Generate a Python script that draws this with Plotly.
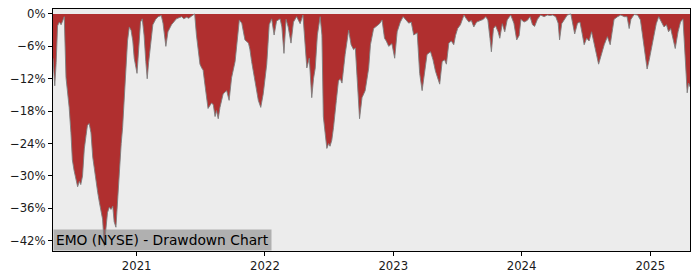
import plotly.graph_objects as go

dates = [
    "2020-05-08", "2020-05-13", "2020-05-17", "2020-05-21", "2020-05-26", "2020-05-31", "2020-06-05", "2020-06-09",
    "2020-06-14", "2020-06-19", "2020-06-23", "2020-06-28", "2020-07-02", "2020-07-07", "2020-07-12", "2020-07-17",
    "2020-07-22", "2020-07-26", "2020-07-31", "2020-08-05", "2020-08-10", "2020-08-14", "2020-08-19", "2020-08-24",
    "2020-08-29", "2020-09-02", "2020-09-07", "2020-09-12", "2020-09-17", "2020-09-22", "2020-09-26", "2020-09-29",
    "2020-10-01", "2020-10-03", "2020-10-06", "2020-10-10", "2020-10-15", "2020-10-20", "2020-10-25", "2020-10-29",
    "2020-11-03", "2020-11-08", "2020-11-13", "2020-11-18", "2020-11-22", "2020-11-27", "2020-12-02", "2020-12-06",
    "2020-12-11", "2020-12-16", "2020-12-21", "2020-12-25",
    "2021-01-02", "2021-01-08", "2021-01-12", "2021-01-17", "2021-01-22", "2021-01-27", "2021-01-31", "2021-02-04",
    "2021-02-09", "2021-02-16", "2021-02-24", "2021-03-03", "2021-03-12", "2021-03-17", "2021-03-25", "2021-03-31",
    "2021-04-10", "2021-04-17", "2021-04-24", "2021-05-09", "2021-05-15", "2021-05-23", "2021-05-29", "2021-06-06",
    "2021-06-15", "2021-06-20", "2021-06-25", "2021-06-30", "2021-07-05", "2021-07-09", "2021-07-14", "2021-07-19",
    "2021-07-23", "2021-07-28", "2021-08-02", "2021-08-07", "2021-08-12", "2021-08-16", "2021-08-21", "2021-08-26",
    "2021-08-31", "2021-09-04", "2021-09-09", "2021-09-14", "2021-09-21", "2021-09-28", "2021-10-08", "2021-10-14",
    "2021-10-20", "2021-10-27", "2021-10-31", "2021-11-05", "2021-11-15", "2021-11-19", "2021-11-24", "2021-12-04",
    "2021-12-13", "2021-12-20", "2021-12-27",
    "2022-01-06", "2022-01-13", "2022-01-20", "2022-01-27", "2022-02-03", "2022-02-13", "2022-02-18", "2022-02-24",
    "2022-03-02", "2022-03-08", "2022-03-16", "2022-03-23", "2022-04-01", "2022-04-11", "2022-04-19", "2022-04-25",
    "2022-04-30", "2022-05-07", "2022-05-14", "2022-05-19", "2022-05-24", "2022-05-30", "2022-06-07", "2022-06-12",
    "2022-06-16", "2022-06-21", "2022-06-26", "2022-07-01", "2022-07-05", "2022-07-10", "2022-07-15", "2022-07-23",
    "2022-07-29", "2022-08-03", "2022-08-08", "2022-08-17", "2022-08-27", "2022-09-03", "2022-09-10", "2022-09-15",
    "2022-09-21", "2022-09-27", "2022-10-04", "2022-10-13", "2022-10-23", "2022-10-28", "2022-11-06", "2022-11-16",
    "2022-11-23", "2022-11-30", "2022-12-07", "2022-12-12", "2022-12-19", "2022-12-28",
    "2023-01-05", "2023-01-12", "2023-01-21", "2023-01-29", "2023-02-04", "2023-02-14", "2023-02-21", "2023-02-28",
    "2023-03-10", "2023-03-17", "2023-03-24", "2023-03-30", "2023-04-07", "2023-04-17", "2023-04-24", "2023-05-01",
    "2023-05-07", "2023-05-13", "2023-05-20", "2023-05-27", "2023-06-01", "2023-06-08", "2023-06-15", "2023-06-22",
    "2023-06-27", "2023-07-03", "2023-07-11", "2023-07-21", "2023-07-28", "2023-08-04", "2023-08-11", "2023-08-18",
    "2023-08-26", "2023-09-04", "2023-09-14", "2023-09-21", "2023-09-27", "2023-10-03", "2023-10-07", "2023-10-13",
    "2023-10-19", "2023-10-26", "2023-10-31", "2023-11-07", "2023-11-14", "2023-11-21", "2023-12-01", "2023-12-10",
    "2023-12-18", "2023-12-25", "2023-12-30",
    "2024-01-08", "2024-01-17", "2024-01-25", "2024-02-01", "2024-02-07", "2024-02-15", "2024-02-24", "2024-03-05",
    "2024-03-14", "2024-03-22", "2024-03-29", "2024-04-07", "2024-04-14", "2024-04-18", "2024-04-24", "2024-05-01",
    "2024-05-10", "2024-05-20", "2024-05-28", "2024-05-31", "2024-06-08", "2024-06-15", "2024-06-22", "2024-06-27",
    "2024-07-04", "2024-07-11", "2024-07-18", "2024-07-25", "2024-08-01", "2024-08-07", "2024-08-13", "2024-08-23",
    "2024-09-01", "2024-09-09", "2024-09-16", "2024-09-20", "2024-09-30", "2024-10-09", "2024-10-19", "2024-10-27",
    "2024-11-02", "2024-11-07", "2024-11-16", "2024-11-26", "2024-12-04", "2024-12-10", "2024-12-17", "2024-12-23",
    "2024-12-29",
    "2025-01-09", "2025-01-18", "2025-01-25", "2025-02-01", "2025-02-09", "2025-02-16", "2025-02-22", "2025-02-28",
    "2025-03-07", "2025-03-13", "2025-03-21", "2025-03-28", "2025-04-04", "2025-04-09", "2025-04-12", "2025-04-16",
    "2025-04-20", "2025-04-24",
]

drawdown_pct = [
    -8.2, -13.3, -9.0, -2.2, -1.5, -2.0, -1.2, -0.5,
    -11.8, -14.5, -17.3, -22.0, -27.0, -29.0, -30.7, -32.0,
    -31.0, -31.6, -30.0, -25.0, -22.5, -20.6, -20.3, -22.0,
    -26.5, -28.5, -30.7, -33.0, -34.9, -36.5, -38.0, -41.0,
    -43.0, -41.5, -39.0, -36.8, -35.8, -36.2, -35.6, -38.5,
    -39.5, -34.3, -27.0, -24.0, -21.0, -14.8, -11.0, -5.0,
    -2.4, -3.0, -5.0, -8.2,
    -11.0, -5.0, -1.5, -0.9, -3.9, -8.8, -12.0, -9.0,
    -6.0, -2.0, -1.0, -0.5, -0.3, -1.7, -6.0, -3.3,
    -2.0, -1.5, -0.9, -0.5, -0.9, -0.6, -0.8, -0.4,
    0.0, -3.9, -7.0, -9.3, -10.0, -10.4, -13.0, -16.0,
    -17.5, -17.0, -16.5, -16.8, -19.0, -17.9, -19.4, -17.3,
    -15.5, -14.8, -14.5, -14.2, -16.0, -11.8, -8.8, -4.5,
    -1.1, -1.7, -3.5, -4.8, -5.4, -6.5, -8.8, -13.0,
    -16.0, -17.3, -14.8,
    -9.3, -2.0, -0.9, -3.9, -1.3, -0.9, -2.4, -7.3,
    -1.0, -2.4, -5.4, -1.5, -0.5, -1.8, -0.2, -5.0,
    -10.0, -8.2, -15.5, -12.0, -10.0, -3.9, -0.5, -3.9,
    -19.0, -22.0, -24.9, -24.0, -24.5, -23.4, -21.0, -16.0,
    -12.4, -12.0, -12.8, -7.5, -3.0, -5.7, -6.6, -6.3,
    -13.0, -19.4, -15.5, -14.2, -10.0, -5.7, -2.7, -2.2,
    -1.8, -1.1, -4.5, -5.0, -6.0, -5.5,
    -8.2, -3.3, -1.5, -0.5, -0.9, -1.7, -1.5, -3.9,
    -3.5, -11.0, -14.2, -11.0, -7.5, -7.0, -8.5, -10.6,
    -12.0, -13.0, -8.8, -8.5, -9.3, -5.4, -5.0, -5.7,
    -4.0, -2.7, -2.0, -0.2, -0.9, -1.5, -1.2, -2.4,
    -1.5, -1.3, -1.0, -0.5, -1.1, -4.5, -7.0, -2.7,
    -2.2, -3.3, -4.5, -1.8, -3.3, -1.1, -0.2, -1.7,
    -4.8, -4.0, -1.0,
    -1.5, -1.2, -0.5, -2.0, -2.3, -1.0, -0.2, -0.5,
    -0.2, -0.3, -0.2, -0.5, -1.7, -4.8, -1.8, -1.1,
    -0.2, 0.0, -2.7, -3.7, -1.7, -1.5, -3.9, -5.7,
    -4.5, -5.0, -3.3, -5.7, -7.5, -9.3, -7.9, -5.7,
    -4.2, -5.7, -2.7, -1.0, -0.5, -0.2, -0.5, -0.5,
    -2.7, -1.0, -0.1, -0.2, -1.1, -3.9, -7.5, -10.2,
    -8.5,
    -5.0, -1.8, -0.5, -1.5, -2.4, -2.0, -3.3, -2.7,
    -5.0, -6.4, -3.3, -1.5, -0.9, -6.4, -11.8, -14.6,
    -12.8, -13.5,
]

year_ticks = ["2021-01-01", "2022-01-01", "2023-01-01", "2024-01-01", "2025-01-01"]
year_labels = ["2021", "2022", "2023", "2024", "2025"]
pct_ticks = [0, -6, -12, -18, -24, -30, -36, -42]
pct_labels = ["0%", "\u22126%", "\u221212%", "\u221218%", "\u221224%", "\u221230%", "\u221236%", "\u221242%"]
title_text = "EMO (NYSE) - Drawdown Chart"

fig = go.Figure()
fig.add_trace(go.Scatter(
    x=dates, y=drawdown_pct, mode="lines", fill="tozeroy",
    fillcolor="#b02f2f", line=dict(color="rgba(125,125,125,0.9)", width=1),
    hoverinfo="skip", showlegend=False,
))

font_family = "DejaVu Sans"
axis_common = dict(
    showline=True, linecolor="black", linewidth=1, mirror=True,
    ticks="outside", ticklen=4, tickwidth=1, tickcolor="black",
    showgrid=False, zeroline=False,
    tickfont=dict(family=font_family, size=11.7, color="#1a1a1a"),
)
fig.update_xaxes(
    type="date", range=["2020-05-08", "2025-04-24"],
    tickvals=year_ticks, ticktext=year_labels, **axis_common,
)
fig.update_yaxes(
    range=[-43.9, 0.92], tickvals=pct_ticks, ticktext=pct_labels, **axis_common,
)
fig.add_annotation(
    xref="paper", yref="paper", x=0, y=0, xanchor="left", yanchor="bottom",
    text=title_text, showarrow=False, bgcolor="rgba(128,128,128,0.55)", borderpad=2,
    font=dict(family=font_family, size=13.8, color="black"),
)
fig.update_layout(
    width=700, height=280,
    margin=dict(l=53, r=10, t=7, b=28),
    paper_bgcolor="white", plot_bgcolor="#ececec",
)
fig.write_html("out.html")
